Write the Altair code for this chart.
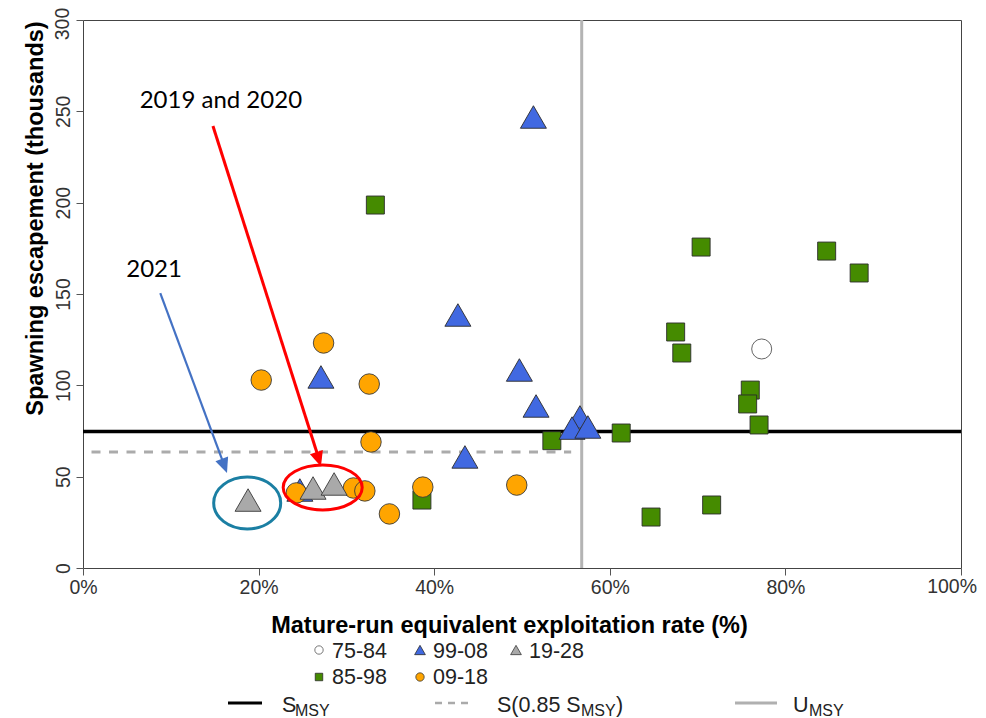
import altair as alt
import pandas as pd

# ---------------- data ----------------
groups = ["75-84", "85-98", "99-08", "09-18", "19-28"]

er_75_84 = [77.3]
esc_75_84 = [119.9]

er_85_98 = [33.3, 53.4, 38.6, 61.3, 64.7, 71.6, 70.4, 67.5, 68.2, 76.0, 75.7, 77.0, 84.7, 88.4]
esc_85_98 = [198.7, 69.7, 37.2, 73.9, 27.9, 34.5, 175.7, 129.2, 117.7, 97.4, 89.8, 78.3, 173.5, 161.5]

er_99_08 = [51.3, 42.7, 27.1, 49.7, 51.6, 43.5, 56.6, 55.7, 57.5, 24.7]
esc_99_08 = [246.9, 138.5, 104.6, 108.4, 88.7, 60.8, 82.7, 76.6, 77.2, 42.7]

er_09_18 = [20.3, 27.4, 32.6, 32.8, 24.3, 30.8, 32.1, 34.9, 38.7, 49.4]
esc_09_18 = [102.9, 123.2, 100.7, 69.0, 41.1, 43.8, 42.2, 29.6, 44.3, 45.4]

er_19_28 = [18.8, 26.2, 28.6]
esc_19_28 = [37.2, 43.8, 46.0]

smsy = [74.7]
s85 = [63.5]
s85_x_end = [55.6]
umsy = [56.8]

x_ticks = [0, 20, 40, 60, 80, 100]
y_ticks = [0, 50, 100, 150, 200, 250, 300]
x_title = "Mature-run equivalent exploitation rate (%)"
y_title = "Spawning escapement (thousands)"

# annotations (data coordinates)
note_text = ["2019 and 2020", "2021"]
note_x = [15.7, 8.1]
note_y = [255.4, 163.1]
arrow_x0 = [14.8, 8.8]
arrow_y0 = [242.0, 150.5]
arrow_x1 = [26.8, 16.1]
arrow_y1 = [60.8, 56.1]
arrow_tip_x = [27.1, 16.4]
arrow_tip_y = [55.6, 52.0]
ring_x = [27.3, 18.7]
ring_y = [44.1, 35.6]

legend_row1 = ["75-84", "99-08", "19-28"]
legend_row2 = ["85-98", "09-18"]

# ---------------- styles ----------------
FONT = "Liberation Sans"
NOTE_FONT = "Lato"
TICK_FS = 19.5
styles = {
    "75-84": dict(shape="circle", fill="white", stroke="#555555", size=400, lsize=70),
    "85-98": dict(shape="square", fill="#458B00", stroke="#2b2b2b", size=324, lsize=56),
    "99-08": dict(shape="triangle-up", fill="#4169E1", stroke="#2b2b2b", size=676, lsize=115),
    "09-18": dict(shape="circle", fill="#FFA500", stroke="#3a3a3a", size=420, lsize=70),
    "19-28": dict(shape="triangle-up", fill="#A9A9A9", stroke="#3a3a3a", size=676, lsize=115),
}
series = {
    "75-84": (er_75_84, esc_75_84),
    "85-98": (er_85_98, esc_85_98),
    "99-08": (er_99_08, esc_99_08),
    "09-18": (er_09_18, esc_09_18),
    "19-28": (er_19_28, esc_19_28),
}

W, H = 878, 548
PAD = {"left": 75, "top": 12, "right": 17, "bottom": 150}

xscale = alt.Scale(domain=[0, 100], nice=False, zero=False)
yscale = alt.Scale(domain=[0, 300], nice=False, zero=False)

top_x = x_ticks[-1]
top_tick = y_ticks[-1]
xaxis = alt.Axis(
    values=x_ticks, labelFlush=False,
    labelExpr="datum.value == %d ? '' : datum.value + '%%'" % top_x,
    title=x_title,
    titleX=426, titleY=57, titleAlign="center", titleBaseline="middle",
    labelPadding=3,
)
yaxis = alt.Axis(
    values=y_ticks, title=y_title, labelAngle=270, labelAlign="center",
    labelBaseline="bottom", labelPadding=3, labelFlush=False,
    labelExpr="datum.value == %d ? '' : datum.label" % top_tick,
    titleAngle=270, titleX=-48, titleY=198, titleAlign="center", titleBaseline="middle",
)


def X(f):
    return alt.X(f, type="quantitative", scale=xscale, axis=xaxis)


def Y(f):
    return alt.Y(f, type="quantitative", scale=yscale, axis=yaxis)


layers = []

# reference lines
layers.append(
    alt.Chart(pd.DataFrame({"u": umsy})).mark_rule(color="#B4B4B4", strokeWidth=3).encode(x=X("u"))
)
layers.append(
    alt.Chart(pd.DataFrame({"s": s85, "x0": [0], "x1": s85_x_end}))
    .mark_rule(color="#ABABAB", strokeWidth=3, strokeDash=[9, 8.5], strokeDashOffset=9)
    .encode(x=X("x0"), x2="x1", y=Y("s"))
)
layers.append(
    alt.Chart(pd.DataFrame({"s": smsy})).mark_rule(color="black", strokeWidth=3.5).encode(y=Y("s"))
)

# end tick labels, nudged so they stay on the page
layers.append(
    alt.Chart(pd.DataFrame({"v": [top_tick], "t": [str(top_tick)]}))
    .mark_text(angle=270, align="center", baseline="bottom", dx=-4, font=FONT,
               fontSize=TICK_FS, color="#333333")
    .encode(y=Y("v"), x=alt.value(-10), text="t:N")
)
layers.append(
    alt.Chart(pd.DataFrame({"v": [top_x], "t": ["%d%%" % top_x]}))
    .mark_text(align="right", baseline="top", dx=16, font=FONT,
               fontSize=TICK_FS, color="#333333")
    .encode(x=X("v"), y=alt.value(H + 10), text="t:N")
)

# data points, drawn in chronological order
for g in groups:
    xs, ys = series[g]
    st = styles[g]
    layers.append(
        alt.Chart(pd.DataFrame({"er": xs, "esc": ys}))
        .mark_point(shape=st["shape"], filled=True, fill=st["fill"], stroke=st["stroke"],
                    strokeWidth=0.9, size=st["size"], opacity=1)
        .encode(x=X("er"), y=Y("esc"))
    )

# annotations
ell_red = ("M -1 0 C -1 -0.315 -0.552 -0.57 0 -0.57 C 0.552 -0.57 1 -0.315 1 0 "
           "C 1 0.315 0.552 0.57 0 0.57 C -0.552 0.57 -1 0.315 -1 0 Z")
ell_teal = ("M -1 0 C -1 -0.428 -0.552 -0.776 0 -0.776 C 0.552 -0.776 1 -0.428 1 0 "
            "C 1 0.428 0.552 0.776 0 0.776 C -0.552 0.776 -1 0.428 -1 0 Z")
head = "M 0 0 L -0.45 -1 L 0.45 -1 Z"
note_colors = ["#FF0000", "#4472C4"]
ring_colors = ["#FF0000", "#1B7FA3"]
ring_shapes = [ell_red, ell_teal]
ring_sizes = [6241, 4489]
line_widths = [3, 2.2]
head_angles = [342.4, 339.6]

for i in range(2):
    layers.append(
        alt.Chart(pd.DataFrame({"x": [ring_x[i]], "y": [ring_y[i]]}))
        .mark_point(shape=ring_shapes[i], filled=False, stroke=ring_colors[i], strokeWidth=3,
                    size=ring_sizes[i], opacity=1)
        .encode(x=X("x"), y=Y("y"))
    )
    layers.append(
        alt.Chart(pd.DataFrame({"x0": [arrow_x0[i]], "y0": [arrow_y0[i]],
                                "x1": [arrow_x1[i]], "y1": [arrow_y1[i]]}))
        .mark_rule(color=note_colors[i], strokeWidth=line_widths[i])
        .encode(x=X("x0"), y=Y("y0"), x2="x1", y2="y1")
    )
    layers.append(
        alt.Chart(pd.DataFrame({"x": [arrow_tip_x[i]], "y": [arrow_tip_y[i]]}))
        .mark_point(shape=head, filled=True, fill=note_colors[i], strokeWidth=0,
                    size=900, angle=head_angles[i], opacity=1)
        .encode(x=X("x"), y=Y("y"))
    )
    layers.append(
        alt.Chart(pd.DataFrame({"x": [note_x[i]], "y": [note_y[i]], "t": [note_text[i]]}))
        .mark_text(font=NOTE_FONT, fontSize=24, color="black", align="center", baseline="middle")
        .encode(x=X("x"), y=Y("y"), text="t:N")
    )

# ---------------- manual legend (pixel layout under the plot) ----------------
one = pd.DataFrame({"k": [0]})


def lpt(px, py, g):
    st = styles[g]
    return alt.Chart(one).mark_point(shape=st["shape"], filled=True, fill=st["fill"],
                                     stroke=st["stroke"], strokeWidth=0.8,
                                     size=st["lsize"], opacity=1).encode(
        x=alt.value(px), y=alt.value(py))


def ltxt(px, py, s, size=21.5):
    return alt.Chart(one).mark_text(text=s, align="left", baseline="alphabetic", font=FONT,
                                    fontSize=size, color="#222222").encode(
        x=alt.value(px), y=alt.value(py))


def lseg(x1, x2, py, color, width, dash=None):
    kw = dict(color=color, strokeWidth=width)
    if dash:
        kw["strokeDash"] = dash
    return alt.Chart(one).mark_rule(**kw).encode(x=alt.value(x1), x2=alt.value(x2), y=alt.value(py))


col_sym = [236, 337, 433]
col_txt = [249, 350, 446]
row1_g = ["75-84", "99-08", "19-28"]
row2_g = ["85-98", "09-18"]
for j, lab in enumerate(legend_row1):
    layers.append(lpt(col_sym[j], 630, row1_g[j]))
    layers.append(ltxt(col_txt[j], 638, lab))
for j, lab in enumerate(legend_row2):
    layers.append(lpt(col_sym[j], 657, row2_g[j]))
    layers.append(ltxt(col_txt[j], 664, lab))

layers.append(lseg(145, 179, 683, "black", 3))
layers.append(ltxt(199, 692, "S"))
layers.append(ltxt(212, 696, "MSY", 16))
layers.append(lseg(352, 385, 683, "#AAAAAA", 2.5, [7, 6]))
layers.append(ltxt(414, 692, "S(0.85 S"))
layers.append(ltxt(498, 696, "MSY", 16))
layers.append(ltxt(533, 692, ")"))
layers.append(lseg(652, 694, 683, "#B0B0B0", 3))
layers.append(ltxt(710, 692, "U"))
layers.append(ltxt(726, 696, "MSY", 16))

chart = (
    alt.layer(*layers)
    .properties(width=W, height=H, autosize=alt.AutoSizeParams(type="none"),
                padding=PAD, background="white")
    .configure_view(stroke="#444444", strokeWidth=1)
    .configure_axis(
        grid=False, domain=False, tickColor="#555555", tickSize=7, tickWidth=1,
        labelFont=FONT, labelFontSize=TICK_FS, labelColor="#333333",
        titleFont=FONT, titleFontSize=23.5, titleFontWeight="bold", titleColor="black",
    )
)

chart.save("out.html", embed_options={"renderer": "svg", "actions": False})
